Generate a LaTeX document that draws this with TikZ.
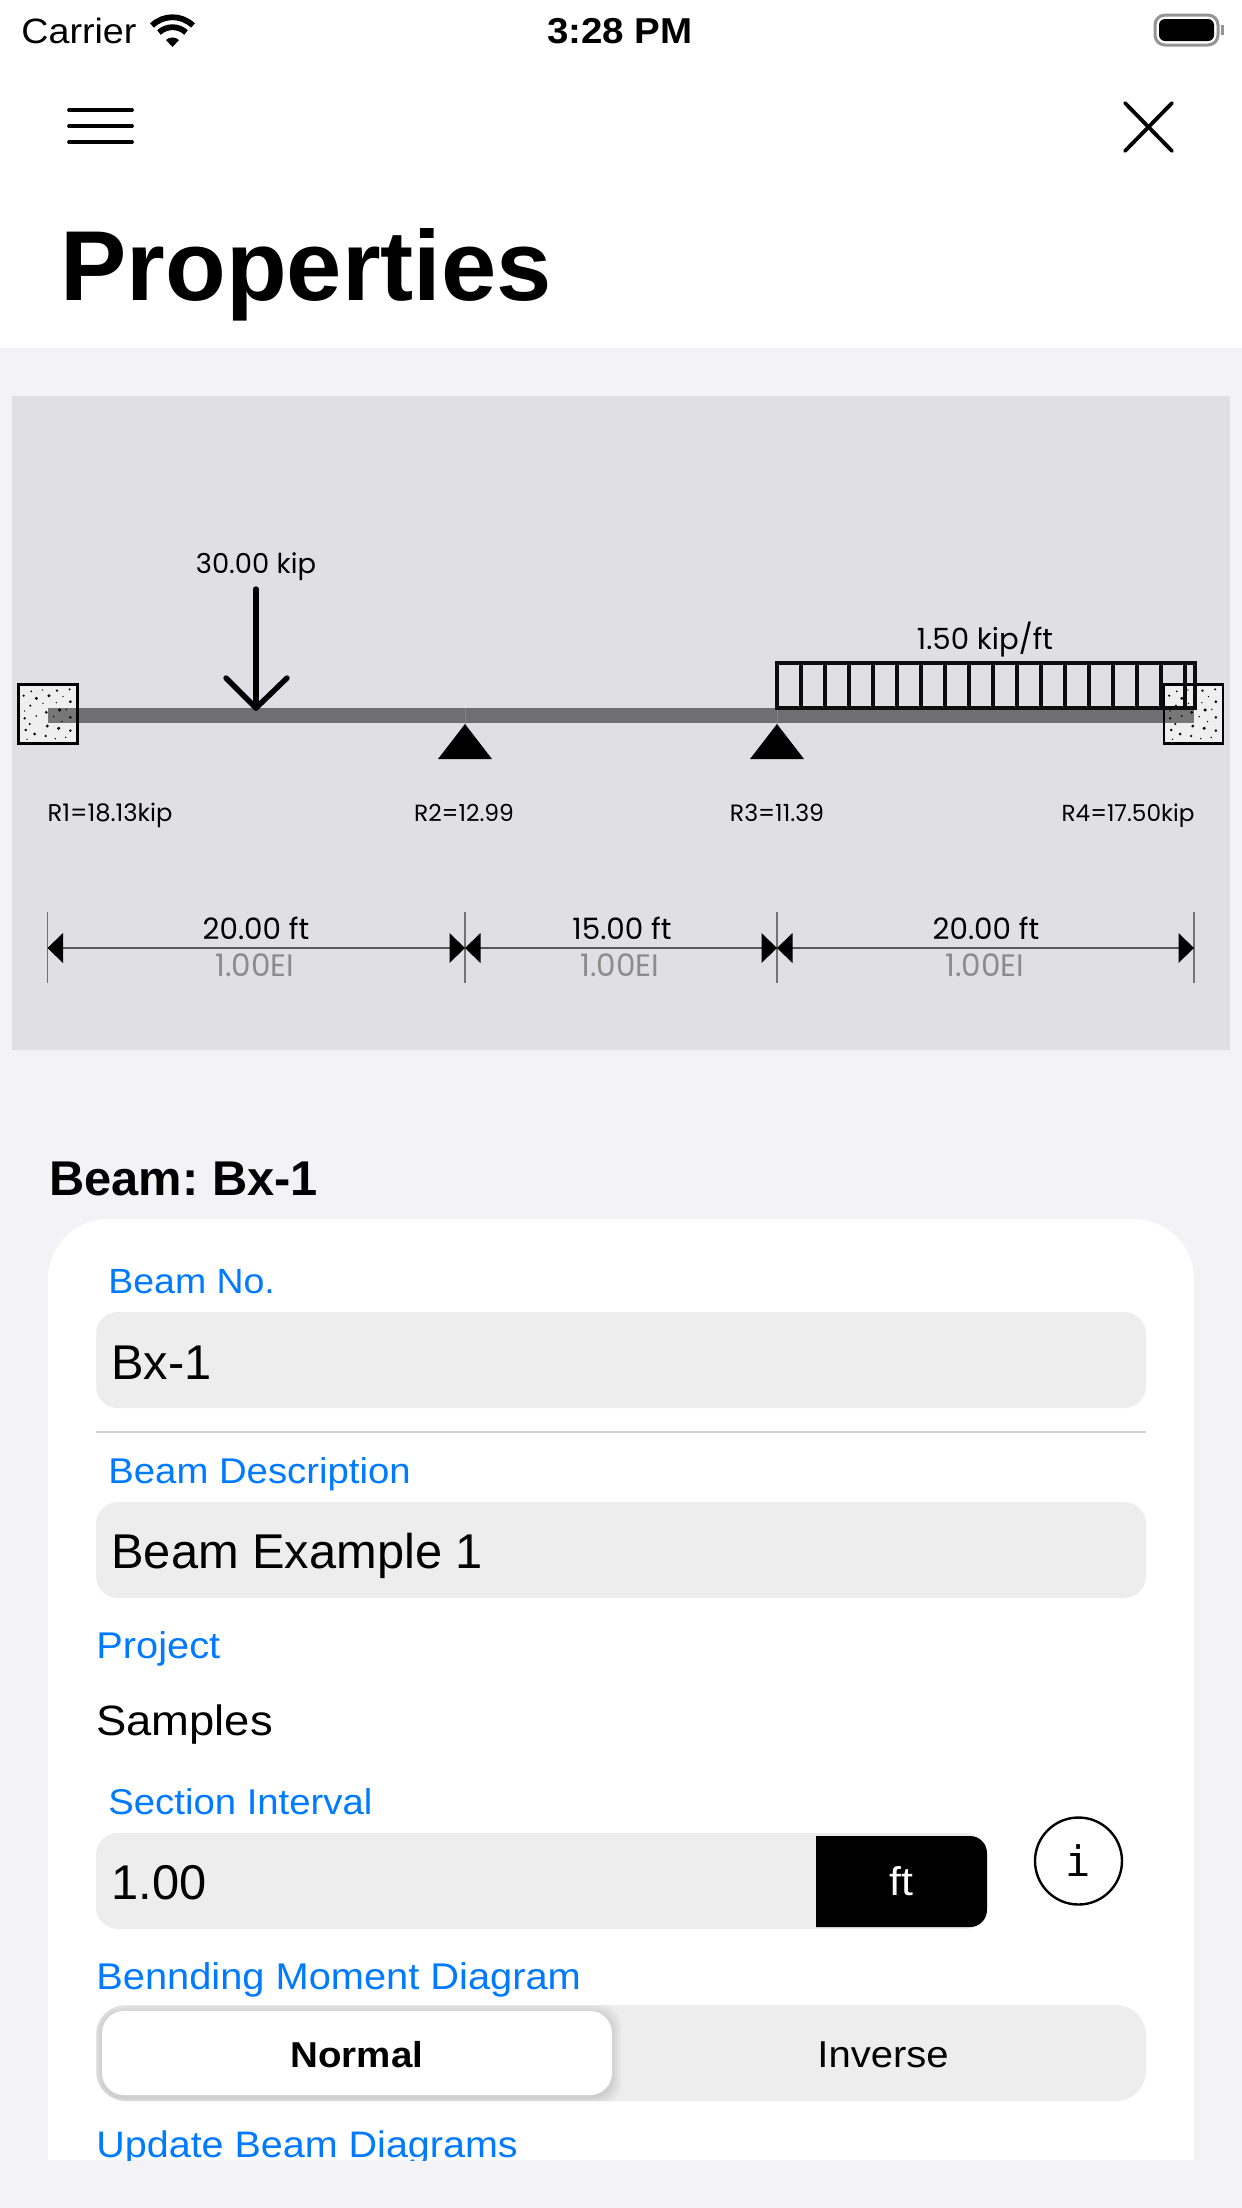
\documentclass[tikz,border=0pt]{standalone}
\usepackage{fontspec}
\setmainfont{Liberation Sans}
\newfontfamily\ui[FakeStretch=1.07]{Liberation Sans}
\newfontfamily\hand{Poppins}
\newfontfamily\monoi{DejaVu Sans Mono}
\definecolor{pagebg}{HTML}{F2F2F7}
\definecolor{panelbg}{HTML}{E0DFE4}
\definecolor{linkblue}{HTML}{007AFF}
\definecolor{fieldbg}{HTML}{EDEDED}
\definecolor{boxbg}{HTML}{EFEFEF}
\newcommand{\speckle}[2]{%
  \begin{scope}[shift={(#1,#2)}]
  \foreach \dx/\dy/\dr in {17/35/1.2,40/22/1,73/18/.7,93/35/1.6,117/20/1.3,155/16/1.1,55/43/1.6,157/53/1.5,115/56/.7,135/38/.7,75/58/.7,37/65/1.1,20/81/.7,85/85/1.5,55/96/.9,125/78/1.7,145/76/.8,20/103/1.3,35/120/1.1,107/98/.8,157/100/1.4,132/113/.8,88/126/1.6,23/138/1.4,50/150/1.5,83/156/1.3,122/133/1.7,157/140/1.4,112/164/.8,143/160/.8,27/166/.7}
    {\fill[black] (\dx/3,\dy/3) circle[radius=\dr];}
  \end{scope}}
\tikzset{
  ui/.style={inner sep=0pt,font=\ui\fontsize{#1}{#1}\selectfont},
  label/.style={ui=#1,text=linkblue,anchor=base west},
  value/.style={inner sep=0pt,font=\fontsize{24.4}{25}\selectfont,text=black,anchor=base west},
  field/.style={fill=fieldbg,rounded corners=11},
  hand/.style={inner sep=0pt,anchor=base,font=\hand\fontsize{#1}{#1}\selectfont},
  reaction/.style={hand=#1},
  dimtext/.style={hand=14.7},
  eitext/.style={hand=15.5,text=black!45},
  head/.style={fill=black,draw=none},
  dimline/.style={draw=black!65,line width=1.1pt},
  tick/.style={draw=black!55,line width=.6pt},
  support/.style={fill=black,draw=none},
  blockbox/.style={fill=boxbg,draw=black,line width=1.2pt},
  loadline/.style={draw=black!95,line width=1.55pt},
  hamb/.style={draw=black,line width=1.9pt,line cap=round},
}
\begin{document}
\begin{tikzpicture}[x=0.5pt,y=-0.5pt]
\useasboundingbox (0,0) rectangle (1242,2208);
\fill[pagebg] (0,0) rectangle (1242,2208);
\fill[white] (0,0) rectangle (1242,348);
% status bar
\node[ui=17.6,anchor=base west] (carrier) at (21,43) {Carrier};
\node[inner sep=0pt,anchor=base,font=\ui\bfseries\fontsize{18}{18}\selectfont] (clock) at (620,43) {3:28 PM};
\begin{scope}[shift={(172.5,47)}]
  \fill (0,0) -- (-6.5,-7) arc[start angle=-133,end angle=-47,radius=9.5] -- cycle;
  \draw[line width=2.9pt] (-13.5,-14.5) arc[start angle=-133,end angle=-47,radius=19.8];
  \draw[line width=2.9pt] (-20.5,-21.5) arc[start angle=-134,end angle=-46,radius=29.5];
\end{scope}
\draw[black!42,line width=1.5pt,rounded corners=5] (1155,15) rectangle (1218,45);
\fill[black,rounded corners=3] (1159,19) rectangle (1214,41);
\fill[black!42] (1221,25) rectangle (1224,35);
% nav icons
\coordinate (ha) at (69,110); \coordinate (hb) at (132,110);
\coordinate (hc) at (69,126); \coordinate (hd) at (132,126);
\coordinate (he) at (69,142); \coordinate (hf) at (132,142);
\draw[hamb] (ha) -- (hb); \draw[hamb] (hc) -- (hd); \draw[hamb] (he) -- (hf);
\coordinate (xa) at (1125,103); \coordinate (xb) at (1172,151);
\coordinate (xc) at (1172,103); \coordinate (xd) at (1125,151);
\draw[hamb] (xa) -- (xb); \draw[hamb] (xc) -- (xd);
\node[inner sep=0pt,anchor=base west,font=\bfseries\fontsize{49.7}{50}\selectfont] (title) at (60,300) {Properties};
% diagram panel
\fill[panelbg] (12,396) rectangle (1230,1050);
\node[blockbox,minimum width=59*.5pt,minimum height=59*.5pt,inner sep=0pt] (boxL) at (48,714) {};
\speckle{18}{684}
\node[blockbox,minimum width=59*.5pt,minimum height=59*.5pt,inner sep=0pt] (boxR) at (1193.5,714) {};
\speckle{1163.5}{684}
\coordinate (beamA) at (48,708); \coordinate (beamB) at (1194,723);
\fill[black,opacity=.5] (beamA) rectangle (beamB);
\draw[black!48,line width=.25pt] (465,708) -- (465,724);
\draw[black!48,line width=.25pt] (777,708) -- (777,724);
% point load
\node[hand=13.7] (pl) at (256,573) {30.00 kip};
\coordinate (pa) at (256,589); \coordinate (pb) at (256,708);
\draw[draw=black,line width=2.7pt,line cap=round,line join=round] (pa) -- (pb);
\draw[draw=black,line width=2.7pt,line cap=round,line join=round] (226,678) -- (pb) -- (287,678);
% supports
\coordinate (R2) at (465,724); \coordinate (R3) at (777,724);
\fill[support] (R2) -- ++(-27,35) -- ++(54,0) -- cycle;
\fill[support] (R3) -- ++(-27,35) -- ++(54,0) -- cycle;
% distributed load
\node[hand=14.6] (dl) at (985,649) {1.50 kip/ft};
\coordinate (la) at (777,663); \coordinate (lb) at (1195,708);
\draw[loadline] (la) rectangle (lb);
\foreach \k in {0,...,16}{\draw[loadline] (801+24*\k,663) -- (801+24*\k,708);}
% reactions
\node[reaction=12.1] (r1) at (110,821.5) {R1=18.13kip};
\node[reaction=11.7] (r2) at (464,821.5) {R2=12.99};
\node[reaction=11.8] (r3) at (777,821.5) {R3=11.39};
\node[reaction=11.6] (r4) at (1128,821.5) {R4=17.50kip};
% dimensions
\coordinate (d0) at (47.5,948); \coordinate (d1) at (465,948);
\coordinate (d2) at (777,948); \coordinate (d3) at (1194,948);
\foreach \d in {d0,d1,d2,d3}{\draw[tick] (\d) ++(0,-36) -- ++(0,71);}
\draw[dimline] (d0) -- (d1);\draw[dimline] (d1) -- (d2);\draw[dimline] (d2) -- (d3);
\fill[head] (d0) -- ++(15.5,-15) -- ++(0,30) -- cycle;
\fill[head] (d1) -- ++(-15.5,-15) -- ++(0,30) -- cycle;
\fill[head] (d1) -- ++(15.5,-15) -- ++(0,30) -- cycle;
\fill[head] (d2) -- ++(-15.5,-15) -- ++(0,30) -- cycle;
\fill[head] (d2) -- ++(15.5,-15) -- ++(0,30) -- cycle;
\fill[head] (d3) -- ++(-15.5,-15) -- ++(0,30) -- cycle;
\node[dimtext] (s1) at (256,939) {20.00 ft};
\node[dimtext] (s2) at (622,939) {15.00 ft};
\node[dimtext] (s3) at (986,939) {20.00 ft};
\node[eitext] (e1) at (255,976) {1.00EI};
\node[eitext] (e2) at (620,976) {1.00EI};
\node[eitext] (e3) at (985,976) {1.00EI};
% form
\node[inner sep=0pt,anchor=base west,font=\bfseries\fontsize{24.4}{24}\selectfont] (heading) at (49,1195) {\frenchspacing Beam: Bx-1};
\begin{scope}
\clip (48,2160) -- (48,1279) arc[start angle=180,end angle=270,radius=60] -- (1134,1219) arc[start angle=270,end angle=360,radius=60] -- (1194,2160) -- cycle;
\fill[white] (48,1219) rectangle (1194,2160);
\node[label=17.5] (lbA) at (108,1293) {Beam No.};
\fill[field] (96,1312) rectangle (1146,1408);
\node[value] (vA) at (111,1379) {Bx-1};
\draw[black!18,line width=.6pt] (96,1432) -- (1146,1432);
\node[label=17.9] (lbB) at (108,1483) {Beam Description};
\fill[field] (96,1502) rectangle (1146,1598);
\node[value] (vB) at (111,1568) {Beam Example 1};
\node[label=18.6] (lbC) at (96,1658) {Project};
\node[ui=21.2,anchor=base west] (vC) at (96,1735) {Samples};
\node[label=17.9] (lbD) at (108,1814) {Section Interval};
\fill[field] (96,1833) rectangle (987,1929);
\node[value] (vD) at (111,1899) {1.00};
\fill[black] (816,1836) -- (970,1836) arc[start angle=-90,end angle=0,radius=17] -- (987,1910) arc[start angle=0,end angle=90,radius=17] -- (816,1927) -- cycle;
\node[ui=20,text=white,anchor=base] (unit) at (901,1895) {ft};
\node[draw=black,line width=1.2pt,circle,minimum size=43.5pt,inner sep=0pt] (info) at (1078.5,1861) {};
\node[inner sep=0pt,text=black,font=\monoi\fontsize{21}{21}\selectfont] (infoi) at (1078,1861) {i};
\node[label=18.6] (lbE) at (96,1989) {Bennding Moment Diagram};
\fill[field,rounded corners=15] (96,2005) rectangle (1146,2101);
\begin{scope}
\clip[rounded corners=15] (96,2005) rectangle (1146,2101);
\foreach \g in {9,7,5,3,1.5}{
  \fill[black,opacity=.022,rounded corners=11] (102-\g,2013-\g) rectangle (612+\g,2097+\g);}
\end{scope}
\fill[white,rounded corners=11] (102,2011) rectangle (612,2095);
\node[inner sep=0pt,font=\ui\bfseries\fontsize{18}{18}\selectfont,anchor=base] (seg1) at (357,2067) {Normal};
\node[ui=18.7,anchor=base] (seg2) at (883,2067) {Inverse};
\node[label=18.45] (lbF) at (96,2157) {Update Beam Diagrams};
\end{scope}
\end{tikzpicture}
\end{document}
